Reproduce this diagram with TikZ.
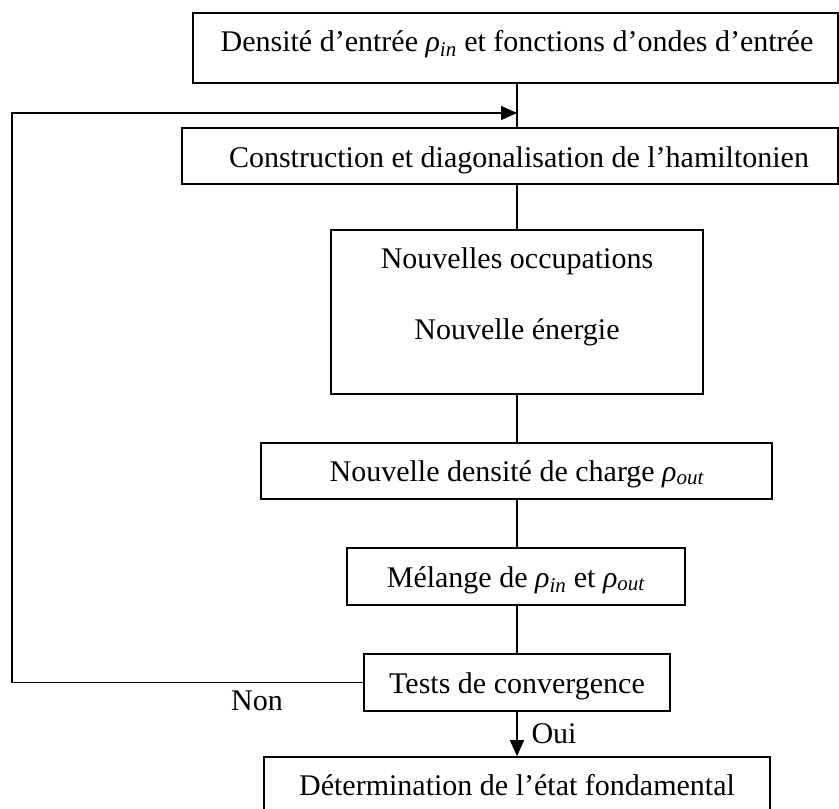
\documentclass[tikz,border=0pt]{standalone}
\usepackage{fontspec}
\setmainfont{Liberation Serif}
\usetikzlibrary{arrows.meta}
\newcommand{\rhoin}{\textit{ρ}\textsubscript{\textit{in}}}
\newcommand{\rhoout}{\textit{ρ}\textsubscript{\textit{out}}}
\begin{document}
\begin{tikzpicture}[x=1pt,y=-1pt,
  box/.style={draw, line width=1.6pt, inner sep=0pt, rectangle},
  txt/.style={anchor=base, inner sep=0pt, font=\fontsize{30}{36}\selectfont},
  conn/.style={line width=1.6pt},
  arr/.style={conn, -{Triangle[length=16pt,width=14pt]}}]
\useasboundingbox (0,0) rectangle (839,809);
\clip (0,0) rectangle (839,809);
\fill[white] (0,0) rectangle (839,809);
\coordinate (axis) at (517,0);
\coordinate (fb) at (12,113);
% boxes
\node[box, minimum width=645pt, minimum height=70pt] (b1) at (515.5,48) {};
\node[box, minimum width=656pt, minimum height=56pt] (b2) at (510,156) {};
\node[box, minimum width=372pt, minimum height=164pt] (b3) at (517,312) {};
\node[box, minimum width=511pt, minimum height=56pt] (b4) at (516.5,471) {};
\node[box, minimum width=338pt, minimum height=57pt] (b5) at (516,576.5) {};
\node[box, minimum width=306pt, minimum height=57pt] (b6) at (517,682.5) {};
\node[box, minimum width=506pt, minimum height=73pt] (b7) at (517,793.5) {};
% texts
\node[txt] (t1) at (517,51) {Densité d’entrée \rhoin{} et fonctions d’ondes d’entrée};
\node[txt] (t2) at (519,167) {Construction et diagonalisation de l’hamiltonien};
\node[txt] (t3a) at (517,268) {Nouvelles occupations};
\node[txt] (t3b) at (517,339) {Nouvelle énergie};
\node[txt] (t4) at (517,481) {Nouvelle densité de charge \rhoout};
\node[txt] (t5) at (516,587) {Mélange de \rhoin{} et \rhoout};
\node[txt] (t6) at (517,693) {Tests de convergence};
\node[txt] (t7) at (517,795) {Détermination de l’état fondamental};
\node[txt] (non) at (257,710) {Non};
\node[txt] (oui) at (554,743) {Oui};
% connectors
\draw[conn] (b1.south -| axis) -- (b2.north -| axis);
\draw[conn] (b2.south -| axis) -- (b3.north -| axis);
\draw[conn] (b3.south -| axis) -- (b4.north -| axis);
\draw[conn] (b4.south -| axis) -- (b5.north -| axis);
\draw[conn] (b5.south -| axis) -- (b6.north -| axis);
\draw[arr] (b6.south) -- (b7.north);
\draw[arr] (b6.west) -| (fb) -- (fb -| axis);
\end{tikzpicture}
\end{document}
